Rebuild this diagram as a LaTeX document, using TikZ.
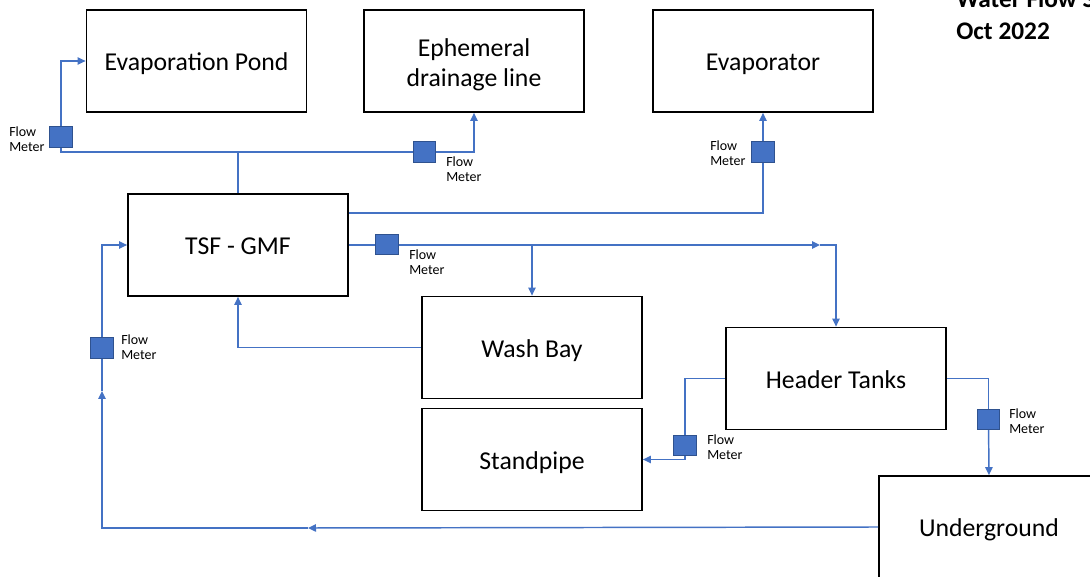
\documentclass[tikz,border=0pt]{standalone}
\usepackage{fontspec}
\setmainfont{Carlito}
\usetikzlibrary{arrows.meta}
\definecolor{pipeblue}{HTML}{4472C4}
\definecolor{meterrim}{HTML}{2F528F}

\tikzset{
  unit/.style={draw, line width=1.3pt, minimum width=165pt, minimum height=76.5pt, align=center, inner sep=0pt, text height=15pt, text depth=0pt, font=\fontsize{19.3}{22.5}\selectfont},
  meter/.style={draw=meterrim, fill=pipeblue, line width=0.9pt, minimum width=17pt, minimum height=15.5pt, inner sep=0pt},
  meterlbl/.style={anchor=west, align=left, inner sep=0pt, font=\fontsize{10.5}{11}\selectfont},
  pipe/.style={draw=pipeblue, line width=1.1pt},
  title/.style={anchor=base west, inner sep=0pt, font=\fontsize{19}{22}\selectfont\bfseries},
  >={Triangle[length=6pt,width=5.5pt]}
}

\begin{document}
\begin{tikzpicture}[x=0.75pt, y=-0.75pt]
        \clip (0,0) rectangle (1090,577);

        \node[unit] (evpond) at (196.5,61) {Evaporation Pond};
        \node[unit, text height=39pt] (ephem) at (474,61) {Ephemeral\\drainage line};
        \node[unit] (evap) at (763,61) {Evaporator};
        \node[unit] (tsf) at (238,245) {TSF - GMF};
        \node[unit] (wash) at (532,347.5) {Wash Bay};
        \node[unit] (stand) at (532,459.5) {Standpipe};
        \node[unit] (header) at (836,378.5) {Header Tanks};
        \node[unit] (ug) at (989,527) {Underground};

        \node[title] (title1) at (956,8) {Water Flow Schematic};
        \node[title] (title2) at (956,40) {Oct 2022};

        \coordinate (j1) at (238,152);
        \coordinate (j2) at (532,245);
        \coordinate (ma) at (820,245);
        \coordinate (ra) at (308,528);
        \coordinate (rb) at (102,391);

        % pipes first, meters on top
        \draw[pipe] (tsf.north) -- (j1);
        \draw[pipe] (j1) -| (61,137);
        \draw[pipe,->] (61,137) |- (evpond.west);
        \draw[pipe] (j1) -- (424.5,152);
        \draw[pipe,->] (424.5,152) -| (ephem.south);
        \draw[pipe] ([yshift=24pt]tsf.east) -| (763,152);
        \draw[pipe,->] (763,152) -- (evap.south);
        \draw[pipe] (tsf.east) -- (j2);
        \draw[pipe,->] (j2) -- (wash.north);
        \draw[pipe,->] (j2) -- (ma);
        \draw[pipe,->] (ma) -| (header.north);
        \draw[pipe,->] (wash.west) -| (tsf.south);
        \draw[pipe] (header.west) -| (685,445.5);
        \draw[pipe,->] (685,445.5) |- (stand.east);
        \draw[pipe] (header.east) -| (988.5,419.5);
        \draw[pipe,->] (988.5,419.5) -- (ug.north);
        \draw[pipe,->] (ug.west) -- (ra);
        \draw[pipe,->] (ra) -| (rb);
        \draw[pipe,->] (rb) |- (tsf.west);

        \node[meter] (m1) at (61,137) {};
        \node[meter] (m2) at (424.5,152) {};
        \node[meter] (m3) at (763,152) {};
        \node[meter] (m4) at (387,244.5) {};
        \node[meter] (m5) at (102,348) {};
        \node[meter] (m6) at (685,445.5) {};
        \node[meter] (m7) at (988.5,419.5) {};

        \node[meterlbl] (lbl1) at (9,139.5) {Flow\\Meter};
        \node[meterlbl] (lbl2) at (446,169.5) {Flow\\Meter};
        \node[meterlbl] (lbl3) at (710,153) {Flow\\Meter};
        \node[meterlbl] (lbl4) at (409,262.5) {Flow\\Meter};
        \node[meterlbl] (lbl5) at (121,347.5) {Flow\\Meter};
        \node[meterlbl] (lbl6) at (707,447) {Flow\\Meter};
        \node[meterlbl] (lbl7) at (1009,421.5) {Flow\\Meter};
      \end{tikzpicture}
\end{document}
